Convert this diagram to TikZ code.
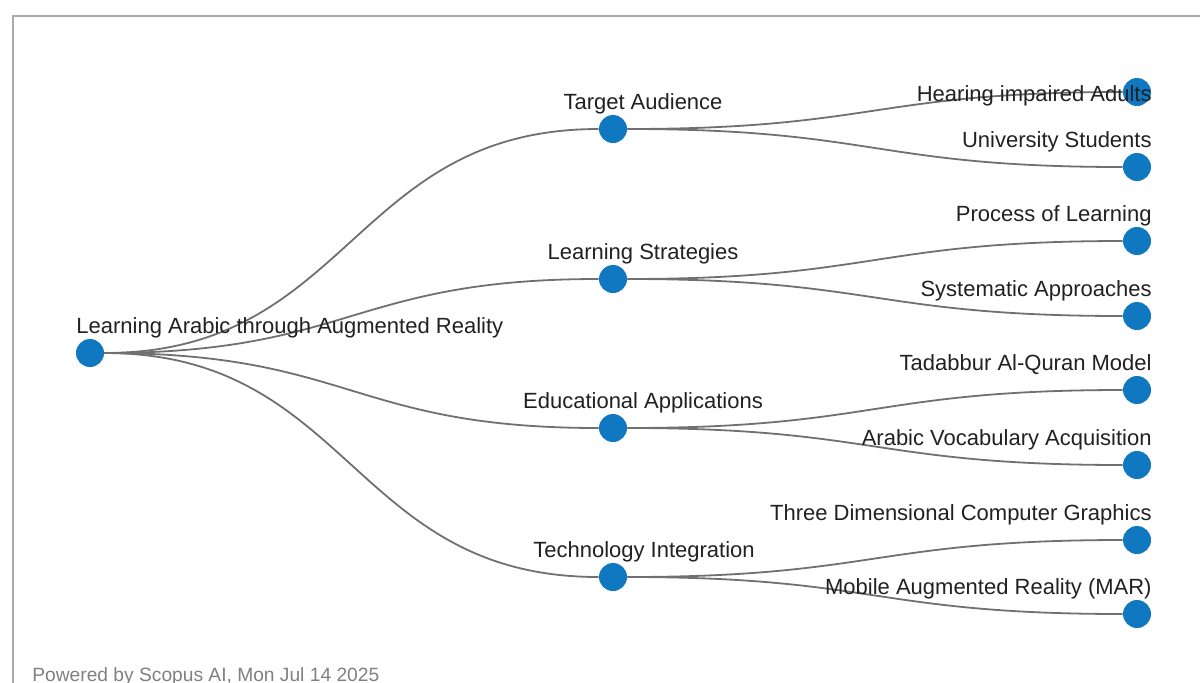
\documentclass[tikz,border=0pt]{standalone}
\usepackage{fontspec}
\setmainfont{Liberation Sans}
\usetikzlibrary{backgrounds,calc}
\definecolor{dotblue}{HTML}{0F78C0}
\definecolor{linkgray}{HTML}{707070}
\definecolor{framegray}{HTML}{AAAAAA}
\tikzset{
  dot/.style={circle, fill=dotblue, minimum size=14pt, inner sep=0pt},
  lbl/.style={font=\fontsize{11}{13}\selectfont, text=black!87, inner sep=0pt},
  link/.style={draw=linkgray, line width=0.9pt,
    to path={let \p1=(\tikztostart), \p2=(\tikztotarget) in
      .. controls ({(\x1+\x2)/2},\y1) and ({(\x1+\x2)/2},\y2) .. (\tikztotarget)}},
}
\begin{document}
\begin{tikzpicture}[x=0.5pt, y=-0.5pt]
      \useasboundingbox (0,0) rectangle (1200,682);
      \draw[framegray, line width=1pt] (12.5,690) -- (12.5,15.5) -- (1210,15.5);
      \path
        (90,353) node[dot] (root){}
        (613,129) node[dot] (aud){}
        (613,279) node[dot] (strat){}
        (613,428) node[dot] (edu){}
        (613,577) node[dot] (tech){}
        (1137,92) node[dot] (hear){}
        (1137,167) node[dot] (univ){}
        (1137,241) node[dot] (proc){}
        (1137,316) node[dot] (syst){}
        (1137,390) node[dot] (tadab){}
        (1137,465) node[dot] (vocab){}
        (1137,540) node[dot] (three){}
        (1137,614) node[dot] (mar){};
      % labels
      \node[lbl, anchor=base west] (rootL) at (76,333) {Learning Arabic through Augmented Reality};
      \node[lbl, anchor=base] (audL) at (643,109) {Target Audience};
      \node[lbl, anchor=base] (stratL) at (643,259) {Learning Strategies};
      \node[lbl, anchor=base] (eduL) at (643,408) {Educational Applications};
      \node[lbl, anchor=base] (techL) at (644,557) {Technology Integration};
      \node[lbl, anchor=base east] (hearL) at (1152,101) {Hearing impaired Adults};
      \node[lbl, anchor=base east] (univL) at (1152,147) {University Students};
      \node[lbl, anchor=base east] (procL) at (1152,221) {Process of Learning};
      \node[lbl, anchor=base east] (systL) at (1152,296) {Systematic Approaches};
      \node[lbl, anchor=base east] (tadabL) at (1152,370) {Tadabbur Al-Quran Model};
      \node[lbl, anchor=base east] (vocabL) at (1152,445) {Arabic Vocabulary Acquisition};
      \node[lbl, anchor=base east] (threeL) at (1152,520) {Three Dimensional Computer Graphics};
      \node[lbl, anchor=base east] (marL) at (1152,594) {Mobile Augmented Reality (MAR)};
      \node[anchor=base west, inner sep=0pt, text=black!50, font=\fontsize{9.6}{11}\selectfont]
        (foot) at (32,681) {Powered by Scopus AI, Mon Jul 14 2025};
      \begin{scope}[on background layer]
        \draw[link] (root) to (aud);
        \draw[link] (root) to (strat);
        \draw[link] (root) to (edu);
        \draw[link] (root) to (tech);
        \draw[link] (aud) to (hear);
        \draw[link] (aud) to (univ);
        \draw[link] (strat) to (proc);
        \draw[link] (strat) to (syst);
        \draw[link] (edu) to (tadab);
        \draw[link] (edu) to (vocab);
        \draw[link] (tech) to (three);
        \draw[link] (tech) to (mar);
      \end{scope}
    \end{tikzpicture}
\end{document}
